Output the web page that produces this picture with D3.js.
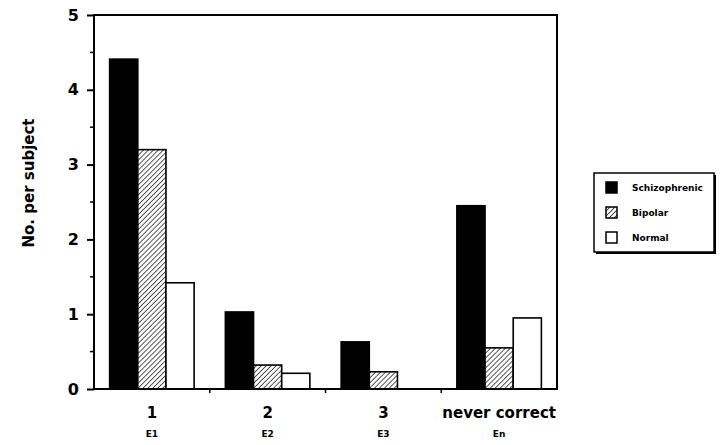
<!DOCTYPE html>
<html>
<head>
<meta charset="utf-8">
<script src="https://cdn.jsdelivr.net/npm/d3@7"></script>
<style>
  body { margin: 0; background: #fff; overflow: hidden; }
  svg { display: block; }
  text { font-family: "DejaVu Sans", sans-serif; font-weight: bold; fill: #000; }
</style>
</head>
<body>
<div id="chart"></div>
<script>
const categories = ["1", "2", "3", "never correct"];
const subLabels = ["E1", "E2", "E3", "En"];
const groups = ["Schizophrenic", "Bipolar", "Normal"];
const schizophrenic = [4.41, 1.03, 0.63, 2.45];
const bipolar = [3.2, 0.32, 0.23, 0.55];
const normal = [1.42, 0.21, 0, 0.95];
const yTicks = [0, 1, 2, 3, 4, 5];
const yMinorTicks = [0.5, 1.5, 2.5, 3.5, 4.5];

const width = 720, height = 445;
const margin = { top: 15, right: 163, bottom: 56, left: 94 };
const innerWidth = width - margin.left - margin.right;
const innerHeight = height - margin.top - margin.bottom;

const data = categories.map((c, i) => ({
    cat: c,
    values: [schizophrenic[i], bipolar[i], normal[i]]
}));

const svg = d3.select("#chart")
    .append("svg")
    .attr("width", width)
    .attr("height", height)
    .attr("viewBox", `0 0 ${width} ${height}`);

// hatch pattern
const defs = svg.append("defs");
const pat = defs.append("pattern")
    .attr("id", "hatch")
    .attr("patternUnits", "userSpaceOnUse")
    .attr("width", 3.5)
    .attr("height", 3.5)
    .attr("patternTransform", "rotate(45)");
pat.append("rect").attr("width", 3.5).attr("height", 3.5).attr("fill", "#fff");
pat.append("line")
    .attr("x1", 0).attr("y1", 0).attr("x2", 0).attr("y2", 3.5)
    .attr("stroke", "#000").attr("stroke-width", 1.3);

const fills = { Schizophrenic: "#000", Bipolar: "url(#hatch)", Normal: "#fff" };

const inner = svg.append("g")
    .attr("transform", `translate(${margin.left},${margin.top})`);

// scales
const x0 = d3.scaleBand().domain(categories).range([0, innerWidth]).paddingInner(0.27).paddingOuter(0.135);
const x1 = d3.scaleBand().domain(groups).range([0, x0.bandwidth()]);
const y = d3.scaleLinear().domain([0, 5]).range([innerHeight, 0]);

// bars
const g = inner.selectAll("g.group")
    .data(data)
    .join("g")
    .attr("class", "group")
    .attr("transform", d => `translate(${x0(d.cat)},0)`);

g.selectAll("rect")
    .data(d => d.values.map((v, i) => ({ key: groups[i], v })).filter(e => e.v > 0))
    .join("rect")
    .attr("x", d => x1(d.key))
    .attr("y", d => y(d.v))
    .attr("width", x1.bandwidth())
    .attr("height", d => innerHeight - y(d.v))
    .attr("fill", d => fills[d.key])
    .attr("stroke", "#000")
    .attr("stroke-width", 1.6);

// frame
inner.append("rect")
    .attr("width", innerWidth)
    .attr("height", innerHeight)
    .attr("fill", "none")
    .attr("stroke", "#000")
    .attr("stroke-width", 2);

// y axis: major ticks
const yAxis = inner.append("g")
    .call(d3.axisLeft(y).tickValues(yTicks).tickFormat(d3.format("d")).tickSize(7).tickPadding(8));
yAxis.select(".domain").remove();
yAxis.selectAll("line").attr("stroke-width", 2);
yAxis.selectAll("text").attr("font-size", 16).attr("font-weight", "bold");

// y axis: minor ticks
inner.append("g")
    .selectAll("line")
    .data(yMinorTicks)
    .join("line")
    .attr("x1", -4).attr("x2", 0)
    .attr("y1", d => y(d)).attr("y2", d => y(d))
    .attr("stroke", "#000").attr("stroke-width", 1.5);

// x axis: ticks at band boundaries
const bounds = categories.slice(1).map(c => x0(c) - x0.step() * x0.paddingInner() / 2);
inner.append("g")
    .selectAll("line")
    .data(bounds)
    .join("line")
    .attr("x1", d => d).attr("x2", d => d)
    .attr("y1", innerHeight).attr("y2", innerHeight + 4)
    .attr("stroke", "#000").attr("stroke-width", 1.5);

// x labels
inner.append("g")
    .selectAll("text")
    .data(categories)
    .join("text")
    .attr("x", d => x0(d) + x0.bandwidth() / 2)
    .attr("y", innerHeight + 29)
    .attr("text-anchor", "middle")
    .attr("font-size", 15)
    .text(d => d);

inner.append("g")
    .selectAll("text")
    .data(subLabels)
    .join("text")
    .attr("x", (d, i) => x0(categories[i]) + x0.bandwidth() / 2)
    .attr("y", innerHeight + 48)
    .attr("text-anchor", "middle")
    .attr("font-size", 9)
    .text(d => d);

// y label
svg.append("text")
    .attr("transform", "rotate(-90)")
    .attr("x", -183)
    .attr("y", 34)
    .attr("text-anchor", "middle")
    .attr("font-size", 15)
    .text("No. per subject");

// legend
const legend = svg.append("g")
    .attr("transform", "translate(594,173)");

legend.append("rect")
    .attr("x", 2).attr("y", 2)
    .attr("width", 120).attr("height", 79)
    .attr("fill", "#000");
legend.append("rect")
    .attr("width", 120).attr("height", 79)
    .attr("fill", "#fff")
    .attr("stroke", "#000")
    .attr("stroke-width", 1.5);

legend.selectAll("rect.sw")
    .data(groups)
    .join("rect")
    .attr("class", "sw")
    .attr("x", 12)
    .attr("y", (d, i) => 9 + i * 25)
    .attr("width", 11)
    .attr("height", 11)
    .attr("fill", d => fills[d])
    .attr("stroke", "#000")
    .attr("stroke-width", 1.5);

legend.selectAll("text")
    .data(groups)
    .join("text")
    .attr("x", 38)
    .attr("y", (d, i) => 18 + i * 25)
    .attr("font-size", 9)
    .text(d => d);
</script>
</body>
</html>
